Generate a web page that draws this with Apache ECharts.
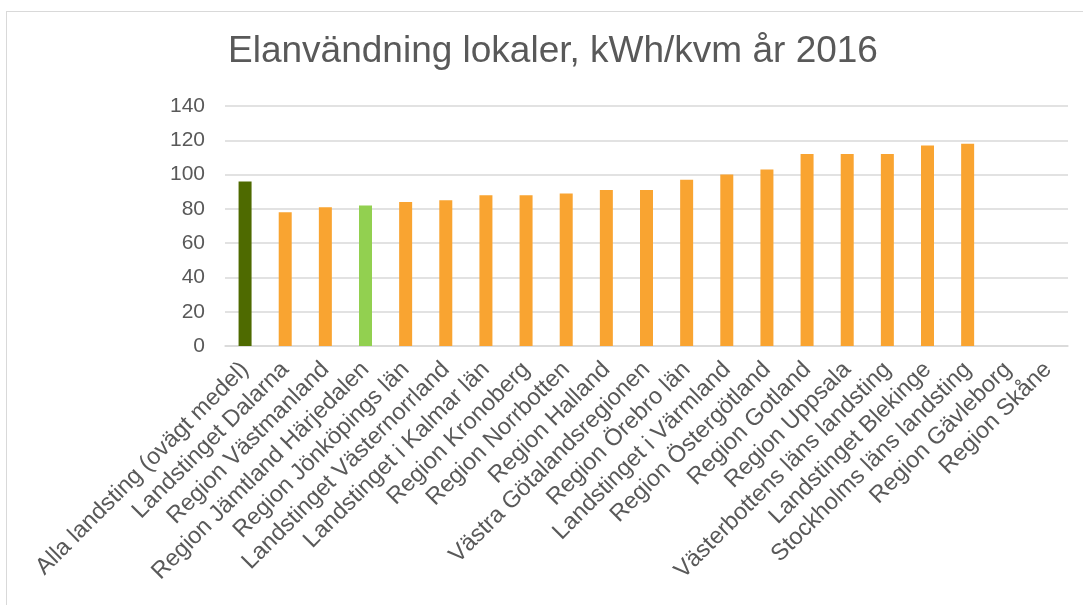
<!DOCTYPE html>
<html>
<head>
<meta charset="utf-8">
<script src="https://cdn.jsdelivr.net/npm/echarts@6/dist/echarts.min.js"></script>
<style>
  html, body { margin: 0; padding: 0; background: #fff; }
  .frame {
    position: absolute; left: 6px; top: 11px; width: 1090px; height: 610px;
    border: 1.5px solid #d9d9d9; box-sizing: border-box;
  }
  #chart { position: absolute; left: 0; top: 0; width: 1083px; height: 605px; }
</style>
</head>
<body>
<div class="frame"></div>
<div id="chart"></div>
<script>
  // kategorier (landsting/regioner)
  const categories = [
    'Alla landsting (ovägt medel)', 'Landstinget Dalarna', 'Region Västmanland',
    'Region Jämtland Härjedalen', 'Region Jönköpings län', 'Landstinget Västernorrland',
    'Landstinget i Kalmar län', 'Region Kronoberg', 'Region Norrbotten', 'Region Halland',
    'Västra Götalandsregionen', 'Region Örebro län', 'Landstinget i Värmland',
    'Region Östergötland', 'Region Gotland', 'Region Uppsala', 'Västerbottens läns landsting',
    'Landstinget Blekinge', 'Stockholms läns landsting', 'Region Gävleborg', 'Region Skåne'
  ];
  // kWh/kvm, null = saknas
  const values = [96, 78, 81, 82, 84, 85, 88, 88, 89, 91, 91, 97, 100, 103, 112, 112, 112, 117, 118, null, null];
  // färg per stapel: 0 = medel, 1 = vanlig, 2 = markerad
  const colorKind = [0, 1, 1, 2, 1, 1, 1, 1, 1, 1, 1, 1, 1, 1, 1, 1, 1, 1, 1, 1, 1];
  const palette = ['#4e6a00', '#f9a431', '#92d050'];

  const myChart = echarts.init(document.getElementById('chart'));
  const option = {
    animation: false,
    textStyle: { fontFamily: 'Liberation Sans, Arial, sans-serif' },
    title: {
      text: 'Elanvändning lokaler, kWh/kvm år 2016',
      left: 548,
      textAlign: 'center',
      top: 28,
      textStyle: { fontSize: 37, fontWeight: 'normal', color: '#595959' }
    },
    grid: { left: 225, right: 15, top: 106, bottom: 259 },
    xAxis: {
      type: 'category',
      data: categories,
      axisLine: { lineStyle: { color: '#d9d9d9', width: 1.5 } },
      axisTick: { show: false },
      axisLabel: {
        interval: 0, rotate: 45, fontSize: 23.5, color: '#595959', margin: 20
      }
    },
    yAxis: {
      type: 'value',
      min: 0, max: 140, interval: 20,
      axisLine: { show: false },
      axisTick: { show: false },
      axisLabel: { fontSize: 21, color: '#595959', margin: 20 },
      splitLine: { lineStyle: { color: '#d9d9d9', width: 1.5 } }
    },
    series: [{
      type: 'bar',
      barWidth: 13,
      data: values.map(function (v, i) {
        return { value: v, itemStyle: { color: palette[colorKind[i]] } };
      })
    }]
  };
  myChart.setOption(option);
</script>
</body>
</html>
